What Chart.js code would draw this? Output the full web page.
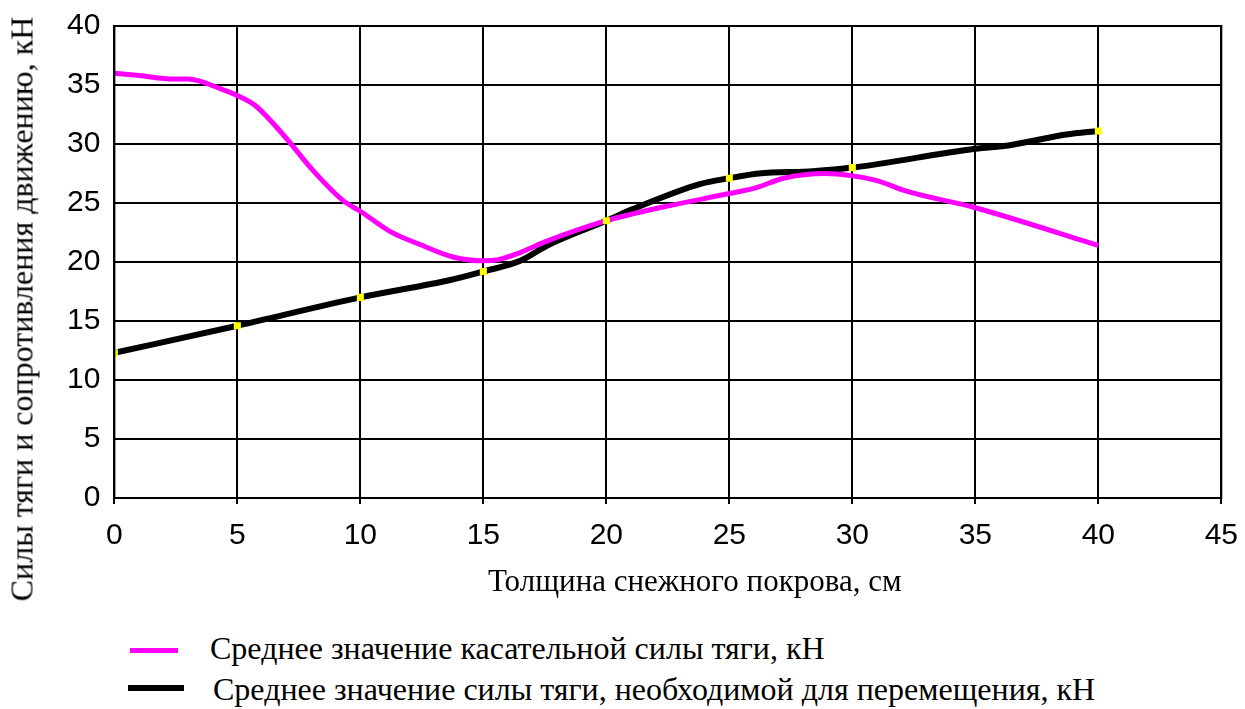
<!DOCTYPE html>
<html>
<head>
<meta charset="utf-8">
<script src="https://cdn.jsdelivr.net/npm/chart.js@4"></script>
<style>
  body { margin: 0; background: #fff; }
  #wrap { position: relative; width: 1245px; height: 709px; overflow: hidden; }
  #myChart { position: absolute; left: 0; top: -6px; }
  #yTitle {
    position: absolute; left: 22px; top: 309px;
    transform: translate(-50%, -50%) rotate(-90deg);
    white-space: nowrap; font: 32px "Liberation Serif", serif; color: #000;
  }
  .txt { position: absolute; font: 32px "Liberation Serif", serif; color: #000; white-space: nowrap; }
  .swatch { position: absolute; }
</style>
</head>
<body>
<div id="wrap">
  <canvas id="myChart" width="1252" height="626"></canvas>
  <div id="yTitle">Силы тяги и сопротивления движению, кН</div>
  <div id="xTitle" class="txt" style="left:488px;top:563px;font-size:31px"></div>
  <div class="swatch" style="left:130px;top:648px;width:48px;height:5px;background:#ff00ff"></div>
  <div class="txt" style="left:210px;top:630px">Среднее значение касательной силы тяги, кН</div>
  <div class="swatch" style="left:128px;top:685px;width:56px;height:6px;background:#000"></div>
  <div class="txt" style="left:213px;top:671px">Среднее значение силы тяги, необходимой для перемещения, кН</div>
</div>
<script>
// касательная сила тяги (pink)
const tractionX = [0, 1, 2.4, 3, 4.3, 5, 5.7, 6.9, 8.1, 9.3, 10, 11.2, 12.4, 13.8, 15, 15.6, 16.5, 17.5, 20, 22.4, 25, 26.1, 27.2, 28.9, 30, 31, 32.2, 35, 40];
const tractionY = [36.0, 35.8, 35.5, 35.5, 34.7, 34.1, 33.3, 30.7, 27.7, 25.2, 24.3, 22.6, 21.5, 20.4, 20.1, 20.2, 20.8, 21.7, 23.5, 24.7, 25.8, 26.3, 27.1, 27.5, 27.3, 26.9, 26.0, 24.6, 21.4];

// сила тяги, необходимая для перемещения (black)
const requiredX = [0, 5, 10, 13.7, 15, 16.5, 17.6, 20, 21.1, 23.8, 25, 26.2, 28.4, 30, 35, 36.4, 38.7, 40];
const requiredY = [12.3, 14.6, 17.0, 18.5, 19.2, 20.1, 21.4, 23.5, 24.5, 26.6, 27.1, 27.5, 27.7, 28.0, 29.6, 29.9, 30.8, 31.1];

// yellow markers on the black curve
const markerX = [0, 5, 10, 15, 20, 25, 30, 40];
const markerY = [12.3, 14.6, 17.0, 19.2, 23.5, 27.1, 28.0, 31.1];

const xTitle = 'Толщина снежного покрова, см';
document.getElementById('xTitle').textContent = xTitle;

const toPoints = (xs, ys) => xs.map((x, i) => ({ x: x, y: ys[i] }));

const ctx = document.getElementById('myChart');
new Chart(ctx, {
  type: 'scatter',
  data: {
    datasets: [
      {
        label: 'markers',
        data: toPoints(markerX, markerY),
        showLine: false,
        pointStyle: 'rect',
        pointRadius: 5,
        pointBorderWidth: 0,
        backgroundColor: '#ffff00',
        borderColor: '#ffff00'
      },
      {
        label: 'Среднее значение касательной силы тяги, кН',
        data: toPoints(tractionX, tractionY),
        showLine: true,
        borderColor: '#ff00ff',
        borderWidth: 5,
        pointRadius: 0,
        tension: 0.3,
        cubicInterpolationMode: 'monotone'
      },
      {
        label: 'Среднее значение силы тяги, необходимой для перемещения, кН',
        data: toPoints(requiredX, requiredY),
        showLine: true,
        borderColor: '#000000',
        borderWidth: 6,
        pointRadius: 0,
        tension: 0.3,
        cubicInterpolationMode: 'monotone'
      }
    ]
  },
  options: {
    responsive: false,
    animation: false,
    layout: { padding: { left: 53, right: 0, top: 0, bottom: 52 } },
    plugins: { legend: { display: false }, tooltip: { enabled: false } },
    scales: {
      x: {
        type: 'linear', min: 0, max: 45,
        border: { color: '#000', width: 2 },
        grid: { color: '#000', lineWidth: 2, tickLength: 6 },
        ticks: { stepSize: 5, color: '#000', padding: 14, font: { family: 'Liberation Sans', size: 30 } }
      },
      y: {
        min: 0, max: 40,
        border: { color: '#000', width: 2 },
        grid: { color: '#000', lineWidth: 2, drawTicks: false },
        ticks: { stepSize: 5, color: '#000', padding: 14, font: { family: 'Liberation Sans', size: 30 } }
      }
    }
  },
  plugins: [{
    id: 'frame',
    afterDraw(chart) {
      const a = chart.chartArea, c = chart.ctx;
      c.save();
      c.strokeStyle = '#000';
      c.lineWidth = 2;
      c.strokeRect(a.left, a.top, a.right - a.left, a.bottom - a.top);
      c.restore();
    }
  }]
});
</script>
</body>
</html>
